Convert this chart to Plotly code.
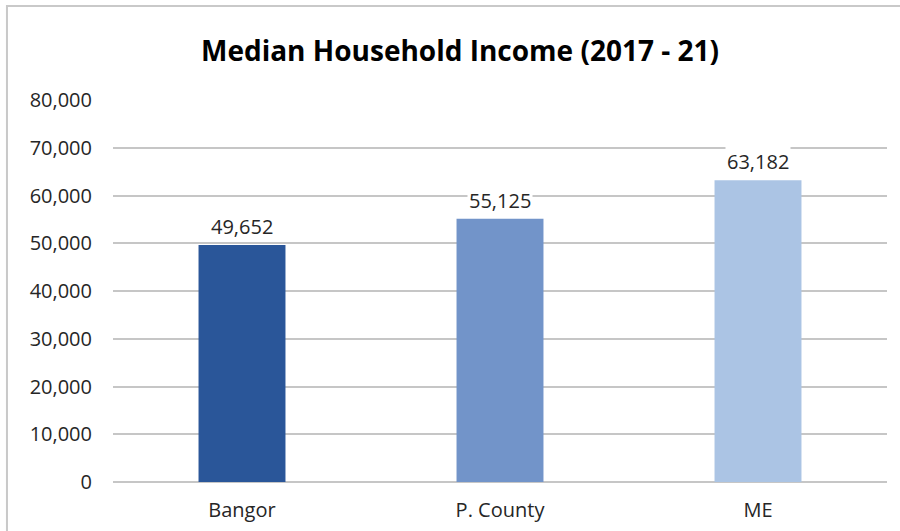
import plotly.graph_objects as go

# Median household income, 2017-21 ACS estimates
regions = ["Bangor", "P. County", "ME"]
income = [49652, 55125, 63182]
bar_colors = ["#2a5699", "#7294c9", "#abc4e4"]
y_ticks = [0, 10000, 20000, 30000, 40000, 50000, 60000, 70000, 80000]

FONT = "Open Sans, Lato, sans-serif"
TEXT = "#262626"

fig = go.Figure(
    go.Bar(
        x=regions,
        y=income,
        marker=dict(color=bar_colors, line=dict(width=0)),
        width=0.337,
        hoverinfo="x+y",
    )
)

# Value labels above each bar with a white backing
for r, v in zip(regions, income):
    fig.add_annotation(
        x=r, y=v, text=f"{v:,}", showarrow=False,
        yanchor="bottom", yshift=3,
        bgcolor="white", borderpad=1,
        font=dict(family=FONT, size=20, color=TEXT),
    )

# Outer chart frame (top and left edges visible)
fig.add_shape(
    type="rect", xref="paper", yref="paper",
    x0=-0.137, x1=2, y0=-1, y1=1.246,
    line=dict(color="#c9c9c9", width=2), fillcolor="rgba(0,0,0,0)",
    layer="below",
)

fig.update_layout(
    width=900, height=531,
    margin=dict(l=113, r=13, t=100, b=49),
    paper_bgcolor="white", plot_bgcolor="white",
    showlegend=False,
    title=dict(
        text="<b>Median Household Income (2017 - 21)</b>",
        x=460 / 900, xanchor="center", xref="container",
        y=1 - 51 / 531, yanchor="middle", yref="container",
        font=dict(family=FONT, size=28, color="black"),
    ),
    xaxis=dict(
        showgrid=False, showline=False, zeroline=False, ticks="",
        tickfont=dict(family=FONT, size=20, color=TEXT),
        ticklabelstandoff=14, automargin=False,
    ),
    yaxis=dict(
        range=[0, 80000], tickvals=y_ticks,
        tickformat=",d",
        showgrid=True, gridcolor="#c6c6c6", gridwidth=2,
        zeroline=True, zerolinecolor="#c6c6c6", zerolinewidth=2,
        showline=False, ticks="",
        tickfont=dict(family=FONT, size=20, color=TEXT),
        ticklabelstandoff=20, automargin=False,
    ),
)

fig.write_html("out.html")
